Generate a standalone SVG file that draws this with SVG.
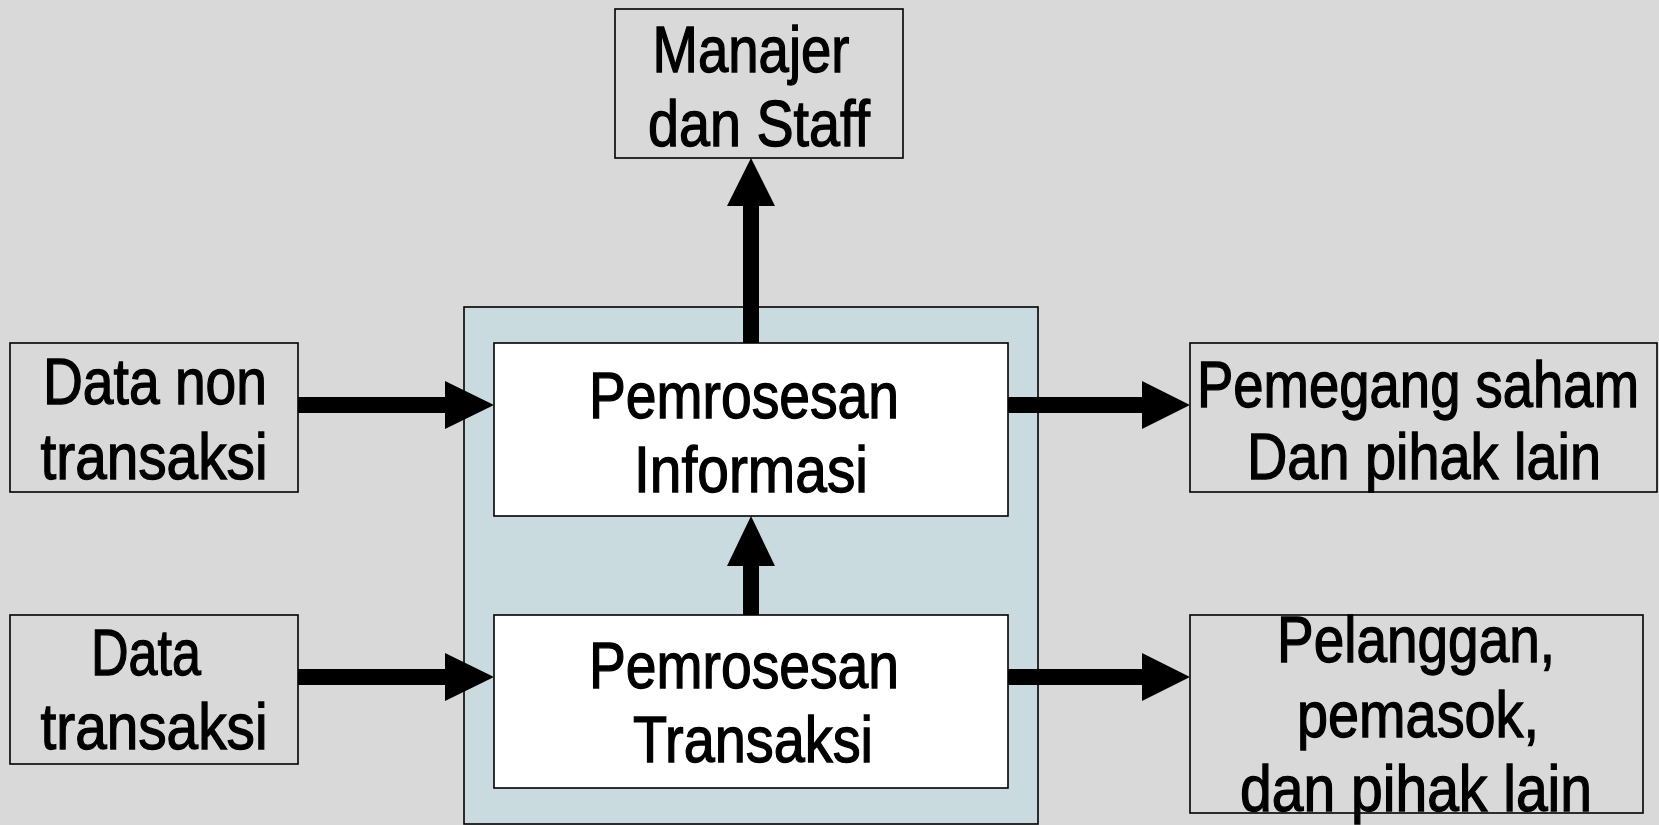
<svg xmlns="http://www.w3.org/2000/svg" width="1659" height="825" viewBox="0 0 1659 825">
<defs>
<style>
.box{fill:#d9d9d9;stroke:#000;stroke-width:1.6}
.inner{fill:#fff;stroke:#000;stroke-width:1.6}
.outer{fill:#c9dbdf;stroke:#000;stroke-width:1.6}
.t{font-family:"Liberation Sans Narrow","Liberation Sans",Arial,sans-serif;font-size:64px;fill:#000;stroke:#000;stroke-width:1.3;text-anchor:middle}
.shaft{stroke:#000;stroke-width:16;fill:none}
.head{fill:#000}
</style>
</defs>
<rect width="1659" height="825" fill="#d9d9d9"/>
<g id="container">
<rect class="outer" x="464" y="307" width="574" height="517"/>
</g>
<g id="manajer">
<rect class="box" x="615" y="9" width="288" height="149"/>
<text class="t" x="751" y="72" textLength="197" lengthAdjust="spacingAndGlyphs">Manajer</text>
<text class="t" x="759" y="146" textLength="222" lengthAdjust="spacingAndGlyphs">dan Staff</text>
</g>
<g id="datanon">
<rect class="box" x="10" y="343" width="288" height="149"/>
<text class="t" x="155" y="404" textLength="224" lengthAdjust="spacingAndGlyphs">Data non</text>
<text class="t" x="154" y="479" textLength="227" lengthAdjust="spacingAndGlyphs">transaksi</text>
</g>
<g id="datatrans">
<rect class="box" x="10" y="615" width="288" height="149"/>
<text class="t" x="146" y="675" textLength="110" lengthAdjust="spacingAndGlyphs">Data</text>
<text class="t" x="154" y="749" textLength="227" lengthAdjust="spacingAndGlyphs">transaksi</text>
</g>
<g id="info">
<rect class="inner" x="494" y="343" width="514" height="173"/>
<text class="t" x="744" y="418" textLength="310" lengthAdjust="spacingAndGlyphs">Pemrosesan</text>
<text class="t" x="751" y="492" textLength="234" lengthAdjust="spacingAndGlyphs">Informasi</text>
</g>
<g id="trans">
<rect class="inner" x="494" y="615" width="514" height="173"/>
<text class="t" x="744" y="688" textLength="310" lengthAdjust="spacingAndGlyphs">Pemrosesan</text>
<text class="t" x="753" y="762" textLength="240" lengthAdjust="spacingAndGlyphs">Transaksi</text>
</g>
<g id="pemegang">
<rect class="box" x="1190" y="343" width="467" height="149"/>
<text class="t" x="1418" y="407" textLength="442" lengthAdjust="spacingAndGlyphs">Pemegang saham</text>
<text class="t" x="1424" y="479" textLength="354" lengthAdjust="spacingAndGlyphs">Dan pihak lain</text>
</g>
<g id="pelanggan">
<rect class="box" x="1190" y="615" width="453" height="198"/>
<text class="t" x="1416" y="662" textLength="278" lengthAdjust="spacingAndGlyphs">Pelanggan,</text>
<text class="t" x="1418" y="737" textLength="242" lengthAdjust="spacingAndGlyphs">pemasok,</text>
<text class="t" x="1416" y="811" textLength="352" lengthAdjust="spacingAndGlyphs">dan pihak lain</text>
</g>
<g id="connectors">
<line class="shaft" x1="298" y1="405" x2="450" y2="405"/>
<polygon class="head" points="445,381 494,405 445,429"/>
<line class="shaft" x1="298" y1="677" x2="450" y2="677"/>
<polygon class="head" points="445,653 494,677 445,701"/>
<line class="shaft" x1="1008" y1="405" x2="1146" y2="405"/>
<polygon class="head" points="1142,381 1190,405 1142,429"/>
<line class="shaft" x1="1008" y1="677" x2="1146" y2="677"/>
<polygon class="head" points="1142,653 1190,677 1142,701"/>
<line class="shaft" x1="751" y1="343" x2="751" y2="200"/>
<polygon class="head" points="727,206 751,158 775,206"/>
<line class="shaft" x1="751" y1="615" x2="751" y2="560"/>
<polygon class="head" points="727,566 751,516 775,566"/>
</g>
</svg>
